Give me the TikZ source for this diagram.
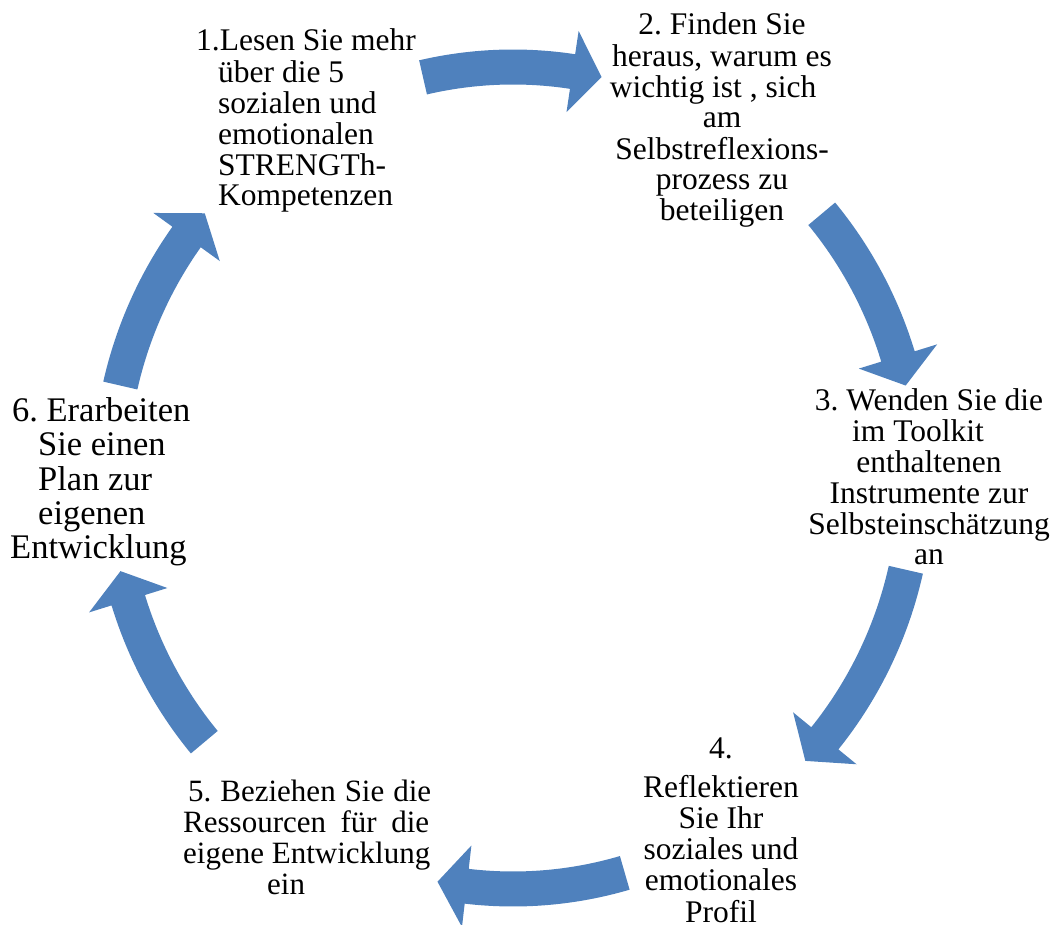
\documentclass[tikz,border=0pt]{standalone}
\usepackage{fontspec}
\setmainfont{Liberation Serif}
\frenchspacing
\definecolor{cycleblue}{HTML}{4F81BD}
\tikzset{
  steptext/.style={inner sep=0pt, text=black},
  cyclearrow/.style={fill=cycleblue, draw=none},
}
\begin{document}
\begin{tikzpicture}[x=1pt, y=1pt]
\useasboundingbox (0,0) rectangle (1054,924);

% six curved block arrows on one ring (tail angle / tip angle)
\begin{scope}[shift={(513,446)}]
\foreach \t/\h in {102.9/77.3, 40/13, -12.9/-43.5, -73.9/-100.8, 220/193.1, 167/139.9} {
  \pgfmathsetmacro\b{\h + 4.2*sign(\t-\h)}
  \fill[cyclearrow]
    (\t:420.5pt and 428.5pt)
      arc[start angle=\t, end angle=\b, x radius=420.5pt, y radius=428.5pt]
    -- (\b:444pt and 452pt)
    -- (\h:403pt and 411pt)
    -- (\b:362pt and 370pt)
    -- (\b:385.5pt and 393.5pt)
      arc[start angle=\b, end angle=\t, x radius=385.5pt, y radius=393.5pt]
    -- cycle;
}
\end{scope}

% step 1
\node[steptext, anchor=base west, font=\fontsize{31.5}{30.7}\selectfont] (n1) at (196,873)
  {\begin{tabular}[t]{@{}l@{}}
   1.Lesen Sie mehr\\
   \hspace*{22pt}über die 5\\
   \hspace*{22pt}sozialen und\\
   \hspace*{22pt}emotionalen\\
   \hspace*{22pt}STRENGTh-\\
   \hspace*{22pt}Kompetenzen
   \end{tabular}};

% step 2
\node[steptext, anchor=base, font=\fontsize{31.5}{30.6}\selectfont] (n2) at (722,889)
  {\begin{tabular}[t]{@{}c@{}}
   2. Finden Sie\\
   heraus, warum es\\
   wichtig ist , sich\hspace*{18pt}\\
   am\\
   Selbstreflexions-\\
   prozess zu\\
   beteiligen
   \end{tabular}};

% step 3
\node[steptext, anchor=base, font=\fontsize{31.5}{30.4}\selectfont] (n3) at (929,513)
  {\begin{tabular}[t]{@{}c@{}}
   3. Wenden Sie die\\
   im Toolkit\hspace*{22pt}\\
   enthaltenen\\
   Instrumente zur\\
   Selbsteinschätzung\\
   an
   \end{tabular}};

% step 4
\node[steptext, anchor=base, font=\fontsize{31.5}{31}\selectfont] (n4) at (721,166)
  {\begin{tabular}[t]{@{}c@{}}
   4.\\[8pt]
   Reflektieren\\
   Sie Ihr\\
   soziales und\\
   emotionales\\
   Profil
   \end{tabular}};

% step 5 (justified lines)
\node[steptext, anchor=base west, font=\fontsize{31}{31}\selectfont] (n5) at (183,123)
  {\begin{tabular}[t]{@{}l@{}}
   \hspace*{5pt}\makebox[243pt][s]{5. Beziehen Sie die}\\
   \makebox[246pt][s]{Ressourcen für die}\\
   eigene Entwicklung\\
   \hspace*{84pt}ein
   \end{tabular}};

% step 6
\node[steptext, anchor=base west, font=\fontsize{34.5}{34}\selectfont] (n6) at (10,502)
  {\begin{tabular}[t]{@{}l@{}}
   \hspace*{2pt}6. Erarbeiten\\
   \hspace*{28pt}Sie einen\\
   \hspace*{28pt}Plan zur\\
   \hspace*{28pt}eigenen\\
   Entwicklung
   \end{tabular}};
\end{tikzpicture}
\end{document}
